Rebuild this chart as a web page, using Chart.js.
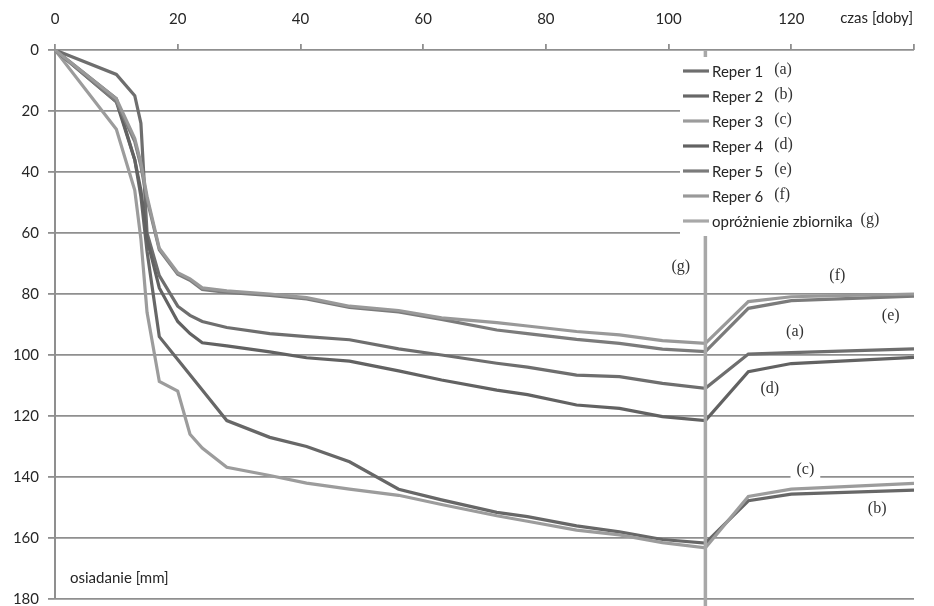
<!DOCTYPE html>
<html>
<head>
<meta charset="utf-8">
<script src="https://cdn.jsdelivr.net/npm/chart.js@4.4.1/dist/chart.umd.min.js"></script>
<style>
  html, body { margin: 0; padding: 0; background: #ffffff; }
  #wrap { width: 934px; height: 606px; }
</style>
</head>
<body>
<div id="wrap"><canvas id="chart" width="934" height="606"></canvas></div>
<script>
// Measurement days (czas [doby])
const days = [0, 10, 13, 14, 15, 17, 20, 22, 24, 28, 35, 41, 48, 56, 63, 72, 77, 85, 92, 99, 106, 113, 120, 140];

// Settlement of each benchmark [mm]
const reper1 = [0, 8, 15, 24, 60, 74, 84, 87, 89, 91, 93, 94, 95, 98, 100, 102.7, 104, 106.6, 107.1, 109.3, 110.9, 99.7, 99.2, 98];
const reper2 = [0, 16, 36, 48, 66, 94, 101.5, 106.5, 111.5, 121.5, 127, 130, 135, 144, 147.5, 151.6, 153, 156, 158, 160.5, 161.7, 147.8, 145.6, 144.3];
const reper3 = [0, 26, 46, 62, 86, 108.7, 111.8, 126, 130.5, 136.8, 139.5, 142, 144, 146, 149, 152.7, 154.5, 157.4, 159, 161.5, 163.2, 146.4, 144, 142.1];
const reper4 = [0, 17, 36, 46, 62, 78, 89, 93, 96, 97, 99, 100.9, 102, 105.2, 108.2, 111.5, 113, 116.4, 117.5, 120.2, 121.5, 105.5, 102.8, 100.8];
const reper5 = [0, 17, 30, 38, 49, 65.5, 73.5, 75.5, 78.5, 79.5, 80.5, 81.6, 84.4, 85.9, 88.3, 91.8, 93, 94.9, 96.2, 98.1, 98.9, 84.7, 82.2, 80.7];
const reper6 = [0, 16, 29, 37, 48, 65, 73, 75, 78, 79, 80, 81.2, 84, 85.4, 87.8, 89.4, 90.5, 92.3, 93.4, 95.3, 96.2, 82.5, 80.9, 80];

// Reservoir emptying: a vertical marker at this day
const emptyingDay = [106, 106];
const emptyingSpan = [0, 183];

const seriesNames = ['Reper 1', 'Reper 2', 'Reper 3', 'Reper 4', 'Reper 5', 'Reper 6', 'opróżnienie zbiornika'];
const seriesTags = ['(a)', '(b)', '(c)', '(d)', '(e)', '(f)', '(g)'];
const seriesColors = ['#6e6e6e', '#676767', '#9c9c9c', '#626262', '#7b7b7b', '#999999', '#a8a8a8'];

// Axis ticks
const xTickValues = [0, 20, 40, 60, 80, 100, 120, 140];
const yTickValues = [0, 20, 40, 60, 80, 100, 120, 140, 160, 180];

// Curve tags placed in data space: [day, mm]
const tagAnchors = {
  '(g)': [102, 71],
  '(f)': [127.5, 74],
  '(e)': [136.2, 87],
  '(a)': [120.6, 92.3],
  '(d)': [116.5, 111],
  '(c)': [122.3, 137.5],
  '(b)': [134, 150.5]
};

const UI_FONT = 'Lato, "Open Sans", sans-serif';
const TAG_FONT = '"Liberation Serif", "DejaVu Serif", serif';
const GRID = '#8f8f8f';

const toPoints = (xs, ys) => xs.map((x, i) => ({ x: x, y: ys[i] }));
const reperSeries = [reper1, reper2, reper3, reper4, reper5, reper6];

const datasets = reperSeries.map((vals, i) => ({
  label: seriesNames[i],
  data: toPoints(days, vals),
  borderColor: seriesColors[i],
  borderWidth: 3.2,
  order: 10 - i
}));
datasets.push({
  label: seriesNames[6],
  data: toPoints(emptyingDay, emptyingSpan),
  borderColor: seriesColors[6],
  borderWidth: 3.5,
  clip: false,
  order: 1
});

// Legend with white backing inside the plot, plus the serif letter tags
const legendPlugin = {
  id: 'boxLegend',
  afterDatasetsDraw(chart) {
    const ctx = chart.ctx;
    const area = chart.chartArea;
    ctx.save();
    ctx.fillStyle = '#ffffff';
    ctx.fillRect(680, 57, area.right + 4 - 680, 236 - 57);

    const rowTop = 71, rowStep = 25, swX0 = 683, swX1 = 709, textX = 712;
    seriesNames.forEach((name, i) => {
      const y = rowTop + i * rowStep;
      ctx.strokeStyle = seriesColors[i];
      ctx.lineWidth = 3.2;
      ctx.beginPath();
      ctx.moveTo(swX0, y);
      ctx.lineTo(swX1, y);
      ctx.stroke();

      ctx.font = '15px ' + UI_FONT;
      ctx.fillStyle = '#262626';
      ctx.textAlign = 'left';
      ctx.textBaseline = 'middle';
      ctx.fillText(name, textX, y + 1);
      const w = ctx.measureText(name).width;

      ctx.font = '16px ' + TAG_FONT;
      ctx.fillStyle = '#333333';
      ctx.fillText(seriesTags[i], textX + w + (i === 6 ? 8 : 11), y - 1);
    });

    // Tags beside the curves
    const xs = chart.scales.x, ys = chart.scales.y;
    ctx.font = '16px ' + TAG_FONT;
    ctx.textAlign = 'center';
    ctx.textBaseline = 'middle';
    Object.keys(tagAnchors).forEach(tag => {
      const [d, mm] = tagAnchors[tag];
      const px = xs.getPixelForValue(d), py = ys.getPixelForValue(mm);
      const w = ctx.measureText(tag).width;
      ctx.fillStyle = '#ffffff';
      ctx.fillRect(px - w / 2 - 6, py - 9, w + 12, 18);
      ctx.fillStyle = '#333333';
      ctx.fillText(tag, px, py);
    });

    // Axis titles
    ctx.font = '15px ' + UI_FONT;
    ctx.fillStyle = '#262626';
    ctx.textAlign = 'right';
    ctx.textBaseline = 'middle';
    ctx.fillText('czas [doby]', area.right - 1, 18);
    ctx.textAlign = 'left';
    ctx.fillText('osiadanie [mm]', 70, 578);
    ctx.restore();
  }
};

new Chart(document.getElementById('chart'), {
  type: 'line',
  data: { datasets: datasets },
  options: {
    responsive: false,
    animation: false,
    layout: { padding: { left: 0, right: 20, top: 0, bottom: 7 } },
    plugins: { legend: { display: false }, tooltip: { enabled: false } },
    elements: {
      point: { radius: 0, hoverRadius: 0 },
      line: { tension: 0, fill: false, borderJoinStyle: 'miter', borderCapStyle: 'butt' }
    },
    scales: {
      x: {
        type: 'linear',
        position: 'top',
        min: 0,
        max: 140,
        afterBuildTicks: s => { s.ticks = xTickValues.map(v => ({ value: v })); },
        afterFit: s => { s.height = 50; },
        ticks: {
          autoSkip: false,
          maxRotation: 0,
          padding: 16,
          color: '#262626',
          font: { family: UI_FONT, size: 15 },
          callback: v => (v === 140 ? '' : String(v))
        },
        grid: { drawOnChartArea: false, drawTicks: true, tickLength: 6, color: GRID, lineWidth: 1.8 },
        border: { display: false }
      },
      y: {
        reverse: true,
        min: 0,
        max: 180,
        afterBuildTicks: s => { s.ticks = yTickValues.map(v => ({ value: v })); },
        afterFit: s => { s.width = 55; s.paddingTop = 0; s.paddingBottom = 0; },
        ticks: {
          padding: 9,
          color: '#262626',
          font: { family: UI_FONT, size: 15 }
        },
        grid: { color: GRID, lineWidth: 1.8, tickLength: 7 },
        border: { color: GRID, width: 2 }
      }
    }
  },
  plugins: [legendPlugin]
});
</script>
</body>
</html>
